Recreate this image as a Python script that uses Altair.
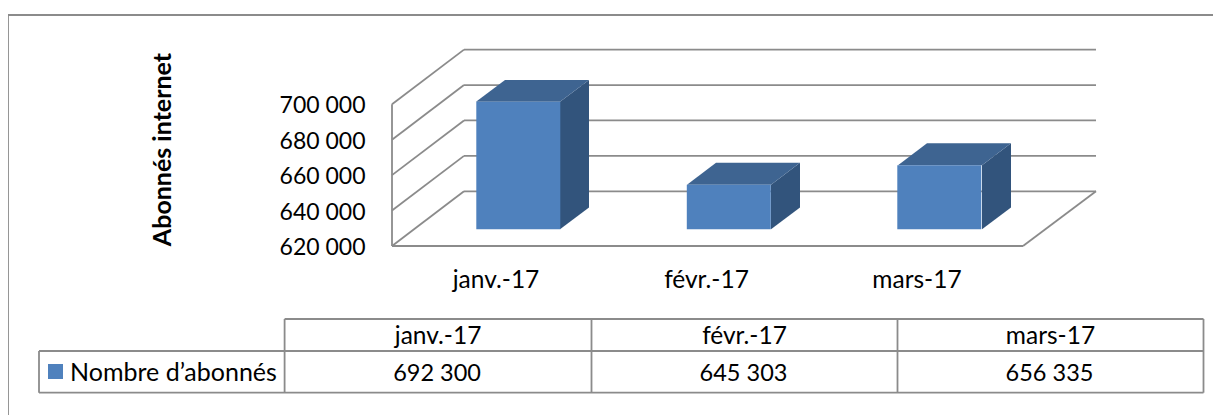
import altair as alt
import pandas as pd

CATEGORIES = ["janv.-17", "févr.-17", "mars-17"]
VALUES = [692300, 645303, 656335]
VALUE_LABELS = ["692 300", "645 303", "656 335"]
Y_TICKS = [620000, 640000, 660000, 680000, 700000]
SERIES = "Nombre d’abonnés"
Y_TITLE = "Abonnés internet"

FONT = "Lato"
FS_TICK, FS_CAT, FS_VAL, FS_LEG, FS_TITLE = 23, 24.5, 23.5, 25, 25
GREY = "#8b8b8b"
LW = 1.8
FRONT, TOP, SIDE = "#4f81bd", "#3e6491", "#32547c"
W, H = 1205, 407
BASE = 620000

# image-pixel scales (page origin offset 8)
X_PX = alt.Scale(domain=[8, 8 + W], range=[0, W])
Y_PX = alt.Scale(domain=[8, 8 + H], range=[0, H])
px_x = lambda f: alt.X(f, type="quantitative", scale=X_PX, axis=None)
px_x2 = lambda f: alt.X2(f)
px_y = lambda f: alt.Y(f, type="quantitative", scale=Y_PX, axis=None)

# wall: values on the front plane of the chart box
Y_WALL = alt.Scale(domain=[620000, 700000], range=[238, 96.3])
wall_k = (238 - 96.3) / 80000
wall_depth = 54.7 / wall_k
# bars stand inside the box
Y_BAR = alt.Scale(domain=[620000, 700000], range=[221.3, 80.1])
bar_k = (221.3 - 80.1) / 80000
bar_depth = 21.8 / bar_k
BAR_L = [476, 687, 898]
BAR_W, BAR_DX = 84, 29
X_BAND = alt.Scale(domain=CATEGORIES, range=[382.75, 1014.25], paddingInner=0, paddingOuter=0)

# frame
frame = pd.DataFrame([
    {"x": 8, "x2": 1221, "y": 15, "y2": 15},
    {"x": 8, "x2": 8, "y": 15, "y2": 415},
])
frame_l = alt.Chart(frame).mark_rule(color=GREY, strokeWidth=LW).encode(
    x=px_x("x"), x2=px_x2("x2"), y=px_y("y"), y2="y2")

# walls: left edge with real value axis
left = pd.DataFrame({"a": [Y_TICKS[0]], "b": [Y_TICKS[-1]]})
wall_axis = alt.Chart(left).mark_rule(color=GREY, strokeWidth=LW).encode(
    x=alt.value(384),
    y=alt.Y("a:Q", scale=Y_WALL, axis=alt.Axis(
        values=Y_TICKS, offset=-384, domain=False, ticks=False, grid=False,
        labelExpr="replace(format(datum.value, ','), /,/g, ' ')",
        labelFont=FONT, labelFontSize=FS_TICK, labelColor="#000000", labelPadding=27,
        labelBaseline="middle", labelOffset=1.5,
        title=Y_TITLE, titleFont=FONT, titleFontSize=FS_TITLE, titleFontWeight="bold",
        titleColor="#000000", titleX=-230, titleY=141, titleAlign="center",
        titleBaseline="middle", titleAngle=270)),
    y2="b:Q")

wall_rows = []
for v in Y_TICKS:
    wall_rows.append({"x": 392, "x2": 464, "y": v, "y2": v + wall_depth})
    wall_rows.append({"x": 464, "x2": 1096, "y": v + wall_depth, "y2": v + wall_depth})
wall_rows.append({"x": 392, "x2": 1023, "y": BASE, "y2": BASE})
wall_rows.append({"x": 1023, "x2": 1096, "y": BASE, "y2": BASE + wall_depth})
walls = alt.Chart(pd.DataFrame(wall_rows)).mark_rule(color=GREY, strokeWidth=LW).encode(
    x=px_x("x"), x2=px_x2("x2"),
    y=alt.Y("y:Q", scale=Y_WALL, axis=None), y2="y2:Q")

# bar faces
side_rows, top_rows = [], []
for c, v, l in zip(CATEGORIES, VALUES, BAR_L):
    r = l + BAR_W
    side_rows += [
        {"c": c, "x": r, "y": v, "y2": BASE},
        {"c": c, "x": r + BAR_DX, "y": v + bar_depth, "y2": BASE + bar_depth},
    ]
    top_rows += [
        {"c": c, "y": v, "x": l, "x2": r},
        {"c": c, "y": v + bar_depth, "x": l + BAR_DX, "x2": r + BAR_DX},
    ]
sides = alt.Chart(pd.DataFrame(side_rows)).mark_area(color=SIDE).encode(
    x=px_x("x"), y=alt.Y("y:Q", scale=Y_BAR, axis=None, stack=None), y2="y2:Q", detail="c:N")
tops = alt.Chart(pd.DataFrame(top_rows)).mark_area(color=TOP, orient="horizontal").encode(
    y=alt.Y("y:Q", scale=Y_BAR, axis=None),
    x=alt.X("x:Q", scale=X_PX, axis=None, stack=None), x2="x2:Q", detail="c:N")

bars_df = pd.DataFrame({"c": CATEGORIES, "v": VALUES, "b": [BASE] * 3})
fronts = alt.Chart(bars_df).mark_bar(color=FRONT, width=BAR_W, xOffset=22.3).encode(
    x=alt.X("c:N", sort=CATEGORIES, scale=X_BAND, axis=alt.Axis(
        title=None, domain=False, ticks=False, grid=False, labelAngle=0,
        offset=-(H - 238), labelFont=FONT, labelFontSize=FS_CAT, labelColor="#000000",
        labelPadding=34, labelBaseline="middle")),
    y=alt.Y("v:Q", scale=Y_BAR, axis=None), y2="b:Q")

# data table
COL_X = [284.6, 591.5, 897.5, 1203.5]
table_rows = [
    {"x": COL_X[0], "x2": COL_X[3], "y": 319, "y2": 319},
    {"x": 39, "x2": COL_X[3], "y": 351, "y2": 351},
    {"x": 39, "x2": COL_X[3], "y": 392.7, "y2": 392.7},
    {"x": 39, "x2": 39, "y": 351, "y2": 392.7},
] + [{"x": x, "x2": x, "y": 319, "y2": 392.7} for x in COL_X]
table = alt.Chart(pd.DataFrame(table_rows)).mark_rule(color=GREY, strokeWidth=LW).encode(
    x=px_x("x"), x2=px_x2("x2"), y=px_y("y"), y2="y2")

centers = [(COL_X[i] + COL_X[i + 1]) / 2 for i in range(3)]
head_rows = [{"x": x, "y": 337, "t": c} for x, c in zip(centers, CATEGORIES)]
val_rows = [{"x": x - 1, "y": 373.5, "t": t} for x, t in zip(centers, VALUE_LABELS)]
table_head = alt.Chart(pd.DataFrame(head_rows)).mark_text(
    font=FONT, fontSize=FS_CAT, color="#000000", align="center", baseline="middle").encode(
    x=px_x("x"), y=px_y("y"), text="t:N")
table_vals = alt.Chart(pd.DataFrame(val_rows)).mark_text(
    font=FONT, fontSize=FS_VAL, color="#000000", align="center", baseline="middle").encode(
    x=px_x("x"), y=px_y("y"), text="t:N")
legend_text = alt.Chart(pd.DataFrame([{"x": 70, "y": 373, "t": SERIES}])).mark_text(
    font=FONT, fontSize=FS_LEG, color="#000000", align="left", baseline="middle").encode(
    x=px_x("x"), y=px_y("y"), text="t:N")
legend_key = alt.Chart(pd.DataFrame([{"x": 48, "x2": 63, "y": 364, "y2": 379}])).mark_rect(color=FRONT).encode(
    x=px_x("x"), x2=px_x2("x2"), y=px_y("y"), y2="y2")

chart = alt.layer(
    frame_l, wall_axis, walls, sides, tops, fronts, table, table_head, table_vals, legend_key, legend_text
).resolve_scale(x="independent", y="independent").properties(
    width=W, height=H, padding=0, background="white",
    autosize=alt.AutoSizeParams(type="none"),
).configure_view(stroke=None)

chart.save("out.html", embed_options={"renderer": "svg", "actions": False})
